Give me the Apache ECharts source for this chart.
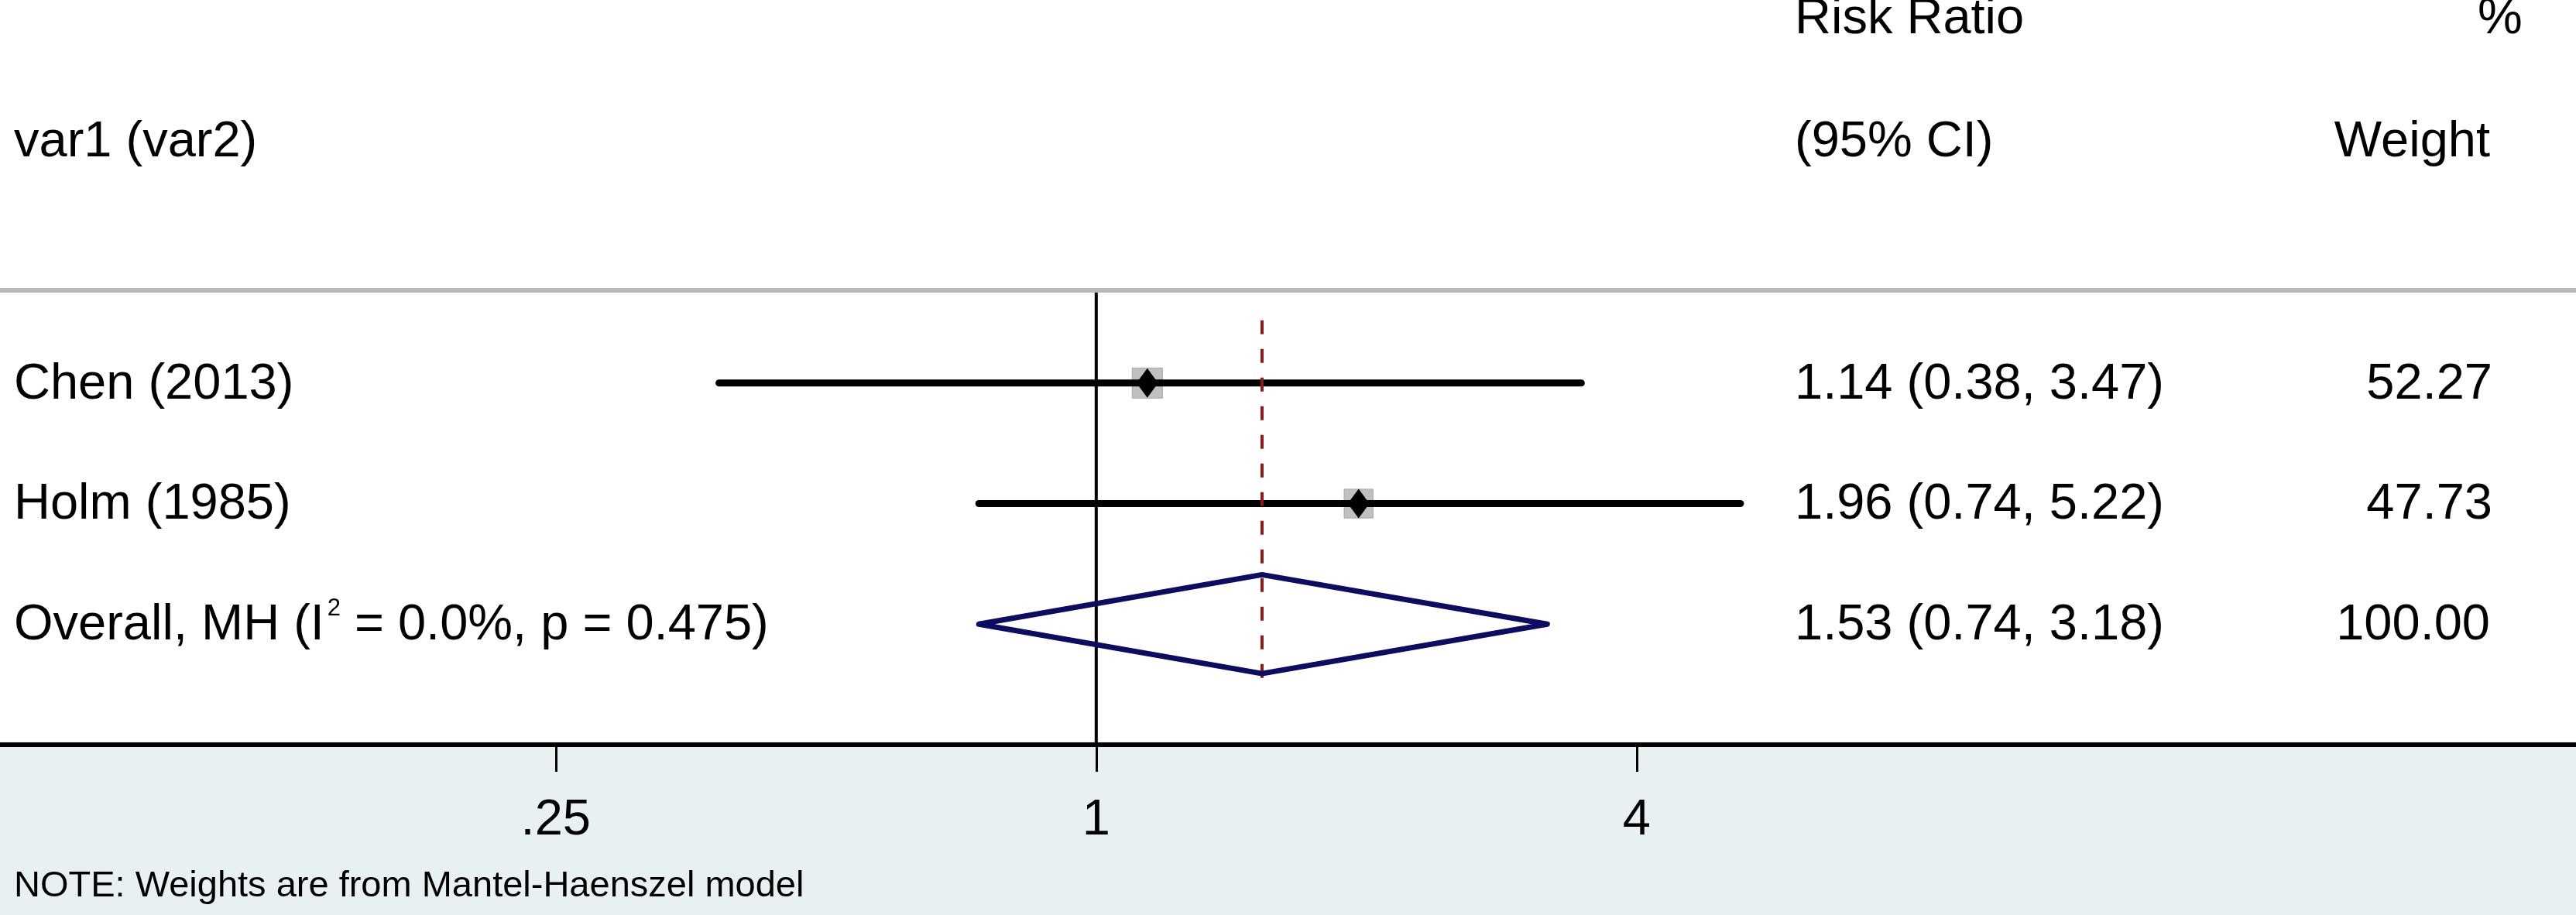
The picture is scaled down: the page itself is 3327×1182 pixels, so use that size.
<!DOCTYPE html>
<html><head><meta charset="utf-8">
<script src="https://cdn.jsdelivr.net/npm/echarts@6/dist/echarts.min.js"></script>
<style>html,body{margin:0;padding:0;background:#fff}#c{width:3327px;height:1182px}</style>
</head><body><div id="c"></div>
<script>
// ---- data ----
const studies = ['Chen (2013)', 'Holm (1985)'];
const estimates = [1.14, 1.96];
const lowerCI = [0.38, 0.74];
const upperCI = [3.47, 5.22];
const weights = [52.27, 47.73];
const ciTexts = ['1.14 (0.38, 3.47)', '1.96 (0.74, 5.22)'];
const weightTexts = ['52.27', '47.73'];
const overallEst = [1.53];
const overallLower = [0.74];
const overallUpper = [3.18];
const overallCIText = '1.53 (0.74, 3.18)';
const overallWeightText = '100.00';
const overallLabelParts = ['Overall, MH (I', '2', ' = 0.0%, p = 0.475)'];
const tickValues = [0.25, 1, 4];
const tickLabels = ['.25', '1', '4'];
const headerLeft = 'var1 (var2)';
const headerCI = ['Risk Ratio', '(95% CI)'];
const headerW = ['%', 'Weight'];
const noteText = 'NOTE: Weights are from Mantel-Haenszel model';

// ---- layout ----
const FONT = '"Liberation Sans", Arial, sans-serif';
const FS = 65;
const chart = echarts.init(document.getElementById('c'), null, {renderer: 'canvas'});

const studyData = studies.map((s, i) => [estimates[i], lowerCI[i], upperCI[i], weights[i], i + 1]);
const overallRow = studies.length + 1;
const overallData = [[overallEst[0], overallLower[0], overallUpper[0], overallRow]];

const option = {
  backgroundColor: '#ffffff',
  animation: false,
  grid: {left: 0, right: 0, top: 378, bottom: 220, containLabel: false, outerBoundsMode: 'none'},
  xAxis: {
    type: 'log', logBase: 2, min: 0.0601, max: 44.5,
    axisLine: {show: true, lineStyle: {color: '#000', width: 6}},
    axisTick: {show: true, customValues: tickValues, length: 35, inside: false, lineStyle: {color: '#000', width: 3}},
    axisLabel: {
      show: true, customValues: tickValues, margin: 66, fontSize: FS, color: '#000', fontFamily: FONT,
      formatter: v => { const i = tickValues.findIndex(t => Math.abs(Math.log2(t) - Math.log2(v)) < 1e-6); return i >= 0 ? tickLabels[i] : ''; }
    },
    splitLine: {show: false}, minorTick: {show: false}
  },
  yAxis: {type: 'value', inverse: true, min: 0.25, max: 4, show: false, splitLine: {show: false}},
  series: [
    { // null line at 1
      type: 'line', silent: true, symbol: 'none', z: 2,
      data: [[1, 0.25], [1, 4]],
      lineStyle: {color: '#000', width: 4}
    },
    { // study CIs + weight boxes
      type: 'custom', silent: true, z: 3,
      encode: {x: [0, 1, 2], y: 4},
      data: studyData,
      renderItem: (params, api) => {
        const est = api.value(0), lo = api.value(1), hi = api.value(2), w = api.value(3), row = api.value(4);
        const pE = api.coord([est, row]), pL = api.coord([lo, row]), pH = api.coord([hi, row]);
        const side = 39 * Math.sqrt(w / 52.27);
        return {type: 'group', children: [
          {type: 'rect', shape: {x: pE[0] - side / 2, y: pE[1] - side / 2, width: side, height: side}, style: {fill: '#c0c0c0', stroke: '#a8a8a8', lineWidth: 1}},
          {type: 'line', shape: {x1: pL[0], y1: pL[1], x2: pH[0], y2: pH[1]}, style: {stroke: '#000', lineWidth: 9, lineCap: 'round'}},
          {type: 'polygon', shape: {points: [[pE[0] - 14, pE[1]], [pE[0], pE[1] - 19], [pE[0] + 14, pE[1]], [pE[0], pE[1] + 19]]}, style: {fill: '#000'}}
        ]};
      }
    },
    { // overall estimate dashed line
      type: 'line', silent: true, symbol: 'none', z: 4,
      data: [[overallEst[0], 0.48], [overallEst[0], 3.51]],
      lineStyle: {color: '#8b1a1a', width: 4, type: [18, 19]}
    },
    { // overall diamond
      type: 'custom', silent: true, z: 5,
      encode: {x: [0, 1, 2], y: 3},
      data: overallData,
      renderItem: (params, api) => {
        const est = api.value(0), lo = api.value(1), hi = api.value(2), row = api.value(3);
        const h = 0.41;
        return {type: 'polygon', shape: {points: [api.coord([lo, row]), api.coord([est, row - h]), api.coord([hi, row]), api.coord([est, row + h])]},
          style: {fill: 'none', stroke: '#0c0c62', lineWidth: 7, lineJoin: 'round'}};
      }
    }
  ]
};
chart.setOption(option);

// ---- text columns ----
const DY = 2;
const yPx = r => chart.convertToPixel({yAxisIndex: 0}, r) + DY;
const X_LEFT = 18, X_CI = 2318, X_W = 3219, X_PCT = 3200;
const txt = (text, x, y, align, size) => ({type: 'text', x: x, y: y, silent: true, z: 10,
  style: {text: text, fill: '#000', font: (size || FS) + 'px ' + FONT, align: align || 'left', verticalAlign: 'middle'}});
const g = [];
const yBottom = chart.convertToPixel({yAxisIndex: 0}, 4), yTop = chart.convertToPixel({yAxisIndex: 0}, 0.25);
g.push({type: 'rect', z: -10, silent: true, shape: {x: 0, y: yBottom, width: 3327, height: 1182 - yBottom}, style: {fill: '#e9f0f2'}});
g.push({type: 'line', z: -5, silent: true, shape: {x1: 0, y1: yTop - 3, x2: 3327, y2: yTop - 3}, style: {stroke: '#b8b8b8', lineWidth: 6}});
const HEAD1 = -2.03, HEAD2 = -1.01;
g.push(txt(headerCI[0], X_CI, yPx(HEAD1)));
g.push(txt(headerW[0], X_PCT, yPx(HEAD1)));
g.push(txt(headerLeft, X_LEFT, yPx(HEAD2)));
g.push(txt(headerCI[1], X_CI, yPx(HEAD2)));
g.push(txt(headerW[1], X_W - 3, yPx(HEAD2), 'right'));
studies.forEach((s, i) => {
  const y = yPx(i + 1);
  g.push(txt(s, X_LEFT, y));
  g.push(txt(ciTexts[i], X_CI, y));
  g.push(txt(weightTexts[i], X_W, y, 'right'));
});
const yo = yPx(overallRow);
const ctx = document.createElement('canvas').getContext('2d');
ctx.font = FS + 'px ' + FONT;
const w1 = ctx.measureText(overallLabelParts[0]).width;
const supX = X_LEFT + w1 + 4;
g.push(txt(overallLabelParts[0], X_LEFT, yo));
g.push(txt(overallLabelParts[1], supX, yo - 22, 'left', 31));
g.push(txt(overallLabelParts[2], supX + 17, yo));
g.push(txt(overallCIText, X_CI, yo));
g.push(txt(overallWeightText, X_W - 3, yo, 'right'));
g.push(txt(noteText, X_LEFT, 1145, 'left', 47));
chart.setOption({graphic: g});
</script></body></html>
